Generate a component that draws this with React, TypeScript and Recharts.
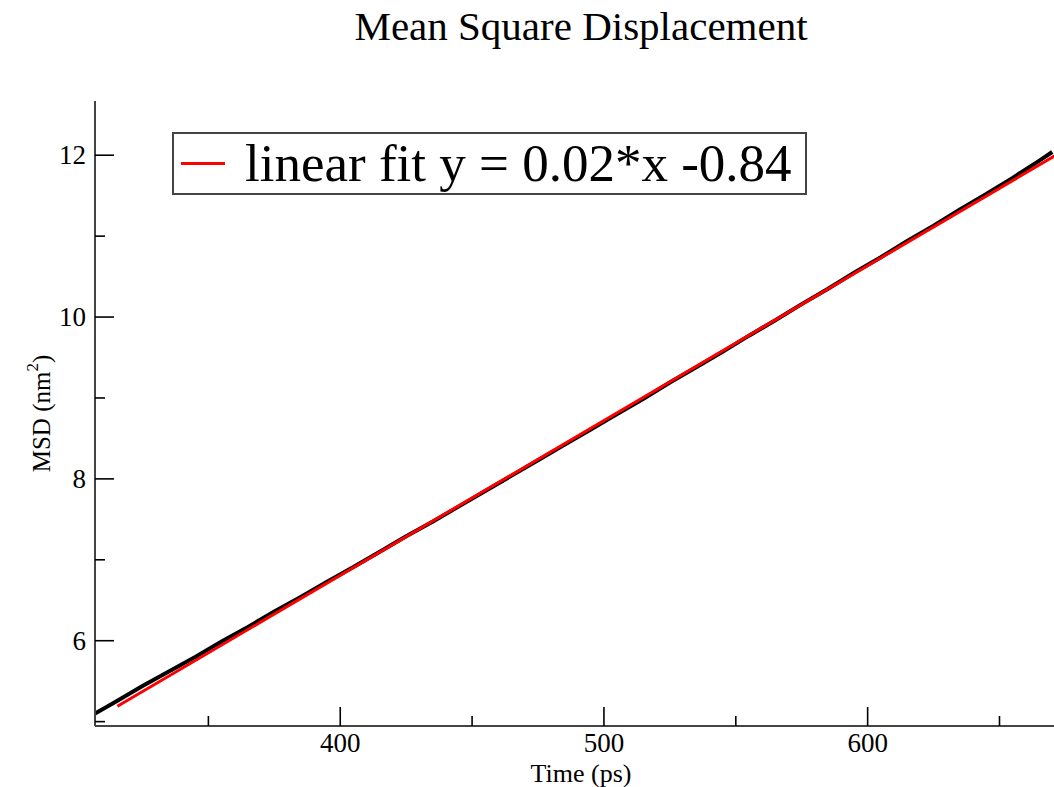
import React from 'react';
import { ComposedChart, Line, XAxis, YAxis, Legend } from 'recharts';

const msdTime = [307, 315, 325, 335, 345, 355, 365, 375, 385, 395, 405, 415, 425, 435, 445, 455, 465, 475, 485, 495, 505, 515, 525, 535, 545, 555, 565, 575, 585, 595, 605, 615, 625, 635, 645, 655, 665, 670];
const msdValue = [5.10, 5.25, 5.44, 5.62, 5.80, 5.99, 6.17, 6.36, 6.54, 6.73, 6.91, 7.10, 7.29, 7.47, 7.66, 7.85, 8.04, 8.23, 8.42, 8.61, 8.80, 8.99, 9.19, 9.38, 9.57, 9.77, 9.96, 10.16, 10.35, 10.55, 10.74, 10.94, 11.13, 11.33, 11.52, 11.72, 11.93, 12.04];
const fitTime = [315.5, 675];
const fitValue = [5.19, 12.07];
const xMajorTicks = [400, 500, 600];
const xAllTicks = [350, 400, 450, 500, 550, 600, 650];
const yMajorTicks = [6, 8, 10, 12];
const yAllTicks = [5, 6, 7, 8, 9, 10, 11, 12];
const xDomain = [307, 675.6];
const yDomain = [4.946, 12.67];
const titleText = 'Mean Square Displacement';
const xLabel = 'Time (ps)';
const legendText = 'linear fit y = 0.02*x -0.84';

const msdData = msdTime.map((t, i) => ({ t, v: msdValue[i] }));
const fitData = fitTime.map((t, i) => ({ t, v: fitValue[i] }));

const FONT = '"Liberation Serif", "DejaVu Serif", serif';
const FRAME = '#444';
const TICK_FS = 27;

const BottomTick = (props: any) => {
  const { x, y, payload } = props;
  const major = xMajorTicks.includes(payload.value);
  return (
    <g>
      <line x1={x} y1={y} x2={x} y2={y - (major ? 19 : 10)} stroke="#000" strokeWidth={1.6} />
      {major && (
        <text x={x} y={y + 26} textAnchor="middle" fontFamily={FONT} fontSize={TICK_FS} fill="#000">
          {payload.value}
        </text>
      )}
    </g>
  );
};

const TopTick = (props: any) => {
  const { x, y, payload } = props;
  const major = xMajorTicks.includes(payload.value);
  return <line x1={x} y1={y} x2={x} y2={y + (major ? 19 : 10)} stroke="#000" strokeWidth={1.6} />;
};

const LeftTick = (props: any) => {
  const { x, y, payload } = props;
  const major = yMajorTicks.includes(payload.value);
  return (
    <g>
      <line x1={x} y1={y} x2={x + (major ? 19 : 10)} y2={y} stroke="#000" strokeWidth={1.6} />
      {major && (
        <text x={x - 9} y={y + 9} textAnchor="end" fontFamily={FONT} fontSize={TICK_FS} fill="#000">
          {payload.value}
        </text>
      )}
    </g>
  );
};

const RightTick = (props: any) => {
  const { x, y, payload } = props;
  const major = yMajorTicks.includes(payload.value);
  return <line x1={x} y1={y} x2={x - (major ? 19 : 10)} y2={y} stroke="#000" strokeWidth={1.6} />;
};

const XLabel = (props: any) => {
  const vb = props.viewBox;
  return (
    <text x={vb.x + vb.width / 2} y={vb.y + 56} textAnchor="middle" fontFamily={FONT} fontSize={26} fill="#000">
      {xLabel}
    </text>
  );
};

const YLabel = (props: any) => {
  const vb = props.viewBox;
  const cx = 50;
  const cy = vb.y + vb.height / 2;
  return (
    <text x={cx} y={cy} transform={`rotate(-90, ${cx}, ${cy})`} textAnchor="middle" fontFamily={FONT} fontSize={25} fill="#000">
      MSD (nm
      <tspan dy={-12} fontSize={17}>2</tspan>
      <tspan dy={12}>)</tspan>
    </text>
  );
};

const LegendBox = () => (
  <div
    style={{
      boxSizing: 'border-box',
      width: 635,
      height: 63,
      border: `2px solid ${FRAME}`,
      background: '#fff',
      display: 'flex',
      alignItems: 'center',
      fontFamily: FONT,
      fontSize: 53,
      color: '#000',
      whiteSpace: 'nowrap',
      overflow: 'hidden',
    }}
  >
    <span style={{ display: 'inline-block', flex: '0 0 auto', width: 44, height: 3, background: '#ff0000', marginLeft: 7, marginRight: 20 }} />
    <span style={{ display: 'inline-block', lineHeight: '53px' }}>{legendText}</span>
  </div>
);

export default function App() {
  return (
    <div style={{ position: 'fixed', left: 0, top: 0, width: 1054, height: 787, overflow: 'hidden', background: '#fff' }}>
      <div
        style={{
          position: 'absolute',
          left: 0,
          top: 6,
          width: 1162,
          textAlign: 'center',
          fontFamily: FONT,
          fontSize: 41,
          lineHeight: '41px',
          color: '#000',
          whiteSpace: 'nowrap',
        }}
      >
        {titleText}
      </div>
      <div style={{ position: 'absolute', left: 0, top: 0 }}>
        <ComposedChart width={1110} height={787} margin={{ top: 101, right: 43, bottom: 21, left: 0 }}>
          <XAxis
            xAxisId="b"
            type="number"
            dataKey="t"
            domain={xDomain}
            allowDataOverflow
            ticks={xAllTicks}
            interval={0}
            height={40}
            tickSize={0}
            tickMargin={0}
            tickLine={false}
            axisLine={{ stroke: FRAME, strokeWidth: 2 }}
            tick={<BottomTick />}
            label={<XLabel />}
          />
          <XAxis
            xAxisId="t"
            orientation="top"
            type="number"
            dataKey="t"
            domain={xDomain}
            allowDataOverflow
            ticks={xAllTicks}
            interval={0}
            height={0}
            tickSize={0}
            tickMargin={0}
            tickLine={false}
            axisLine={{ stroke: FRAME, strokeWidth: 2 }}
            tick={<TopTick />}
          />
          <YAxis
            yAxisId="l"
            type="number"
            domain={yDomain}
            allowDataOverflow
            ticks={yAllTicks}
            interval={0}
            width={95}
            tickSize={0}
            tickMargin={0}
            tickLine={false}
            axisLine={{ stroke: FRAME, strokeWidth: 2 }}
            tick={<LeftTick />}
            label={<YLabel />}
          />
          <YAxis
            yAxisId="r"
            orientation="right"
            type="number"
            domain={yDomain}
            allowDataOverflow
            ticks={yAllTicks}
            interval={0}
            width={0}
            tickSize={0}
            tickMargin={0}
            tickLine={false}
            axisLine={{ stroke: FRAME, strokeWidth: 2 }}
            tick={<RightTick />}
          />
          <Line
            xAxisId="b"
            yAxisId="l"
            data={msdData}
            dataKey="v"
            type="linear"
            stroke="#000"
            strokeWidth={4}
            dot={false}
            isAnimationActive={false}
          />
          <Line
            xAxisId="b"
            yAxisId="l"
            data={fitData}
            dataKey="v"
            type="linear"
            stroke="#ff0000"
            strokeWidth={3}
            dot={false}
            isAnimationActive={false}
          />
          <Legend
            layout="horizontal"
            verticalAlign="middle"
            align="center"
            wrapperStyle={{ left: 172, top: 132, width: 635, height: 63 }}
            content={<LegendBox />}
          />
        </ComposedChart>
      </div>
    </div>
  );
}
